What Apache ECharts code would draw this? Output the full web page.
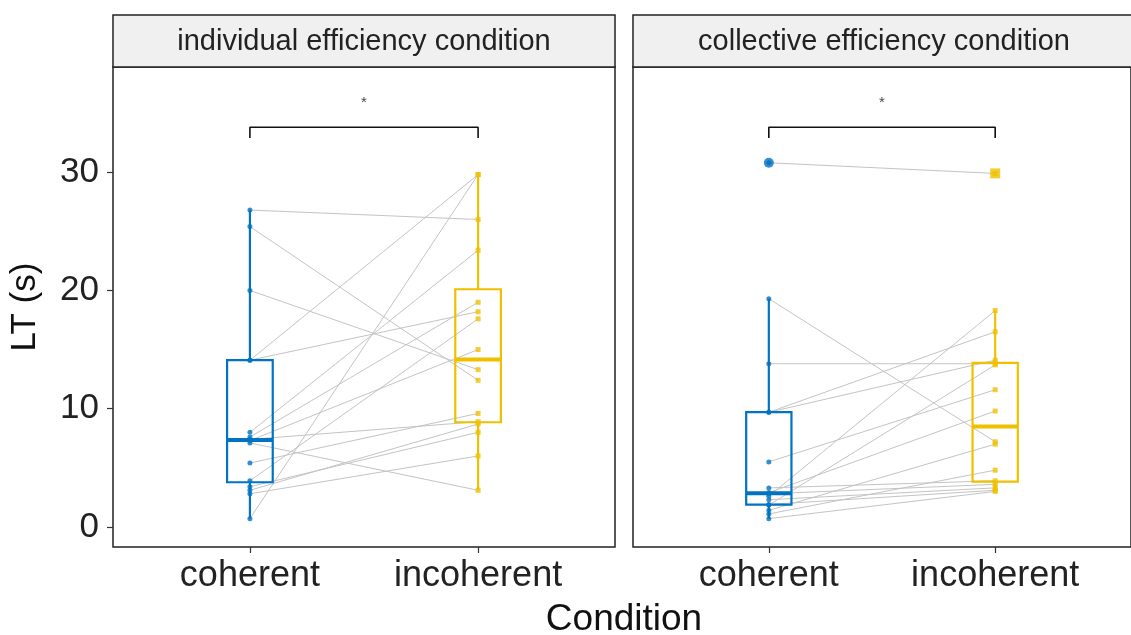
<!DOCTYPE html>
<html><head><meta charset="utf-8">
<script src="https://cdn.jsdelivr.net/npm/echarts@6/dist/echarts.min.js"></script>
<style>html,body{margin:0;padding:0;background:#fff;overflow:hidden}#c{width:1131px;height:635px}</style>
</head><body><div id="c"></div>
<script>
// ---- data ----
const conditions = ['coherent', 'incoherent'];
const panelTitles = ['individual efficiency condition', 'collective efficiency condition'];
const indivCoherent   = [26.8, 25.4, 20.0, 14.1, 14.1, 8.0, 7.6, 7.4, 7.3, 7.1, 5.4, 3.9, 3.4, 3.1, 2.8, 0.7];
const indivIncoherent = [26.0, 12.4, 13.3, 29.8, 18.2, 23.4, 19.0, 8.9, 15.0, 3.1, 9.6, 17.6, 8.0, 8.7, 6.0, 29.8];
const collCoherent    = [30.8, 19.3, 13.8, 9.7, 9.7, 5.5, 3.3, 2.9, 2.8, 2.6, 2.3, 1.9, 1.85, 1.4, 1.1, 0.7];
const collIncoherent  = [29.9, 7.2, 13.8, 16.5, 14.1, 11.6, 3.9, 9.8, 3.6, 18.3, 3.3, 3.1, 13.7, 7.0, 4.8, 3.0];
const yTicks = [0, 10, 20, 30];
const bracketY = 33.8, bracketDrop = 0.9, sigLabels = ['*', '*'];

const colors = ['#0073C2', '#EFC000'];
const symbols = ['circle', 'rect'];
const FONT = 'Liberation Sans';

function quantile(arr, p) {
  const s = arr.slice().sort((a, b) => a - b);
  const h = (s.length - 1) * p, lo = Math.floor(h), hi = Math.ceil(h);
  return s[lo] + (h - lo) * (s[hi] - s[lo]);
}
function boxStats(arr) {
  const q1 = quantile(arr, 0.25), md = quantile(arr, 0.5), q3 = quantile(arr, 0.75);
  const iqr = q3 - q1, lf = q1 - 1.5 * iqr, uf = q3 + 1.5 * iqr;
  const inside = arr.filter(v => v >= lf && v <= uf);
  return { lo: Math.min(...inside), q1, md, q3, hi: Math.max(...inside), out: arr.filter(v => v < lf || v > uf) };
}

const panels = [[indivCoherent, indivIncoherent], [collCoherent, collIncoherent]];
const grids = [
  { left: 113, top: 67, width: 502, height: 480 },
  { left: 633, top: 67, width: 502, height: 480 }
];

const series = [];
const xAxes = [], yAxes = [];
panels.forEach((pair, gi) => {
  xAxes.push({
    gridIndex: gi, type: 'value', min: 0.4, max: 2.6,
    axisLine: { show: false, onZero: false }, splitLine: { show: false },
    axisTick: { show: true, customValues: [1, 2], length: 6, lineStyle: { color: '#333', width: 1.2 } },
    axisLabel: { show: true, customValues: [1, 2], formatter: v => conditions[Math.round(v) - 1] || '',
      fontSize: 36, color: '#222', margin: 11, fontFamily: FONT }
  });
  yAxes.push({
    gridIndex: gi, type: 'value', min: -1.7, max: 38.9,
    axisLine: { show: false, onZero: false }, splitLine: { show: false },
    axisTick: { show: gi === 0, customValues: yTicks, length: 6, lineStyle: { color: '#333', width: 1.2 } },
    axisLabel: { show: gi === 0, customValues: yTicks, fontSize: 35, color: '#222', margin: 14, fontFamily: FONT },
    name: gi === 0 ? 'LT (s)' : '', nameLocation: 'middle', nameGap: 70, nameRotate: 90,
    nameTextStyle: { fontSize: 35, color: '#111', fontFamily: FONT }
  });
  // paired lines
  series.push({
    type: 'custom', xAxisIndex: gi, yAxisIndex: gi, silent: true, z: 1,
    data: pair[0].map((c, i) => [c, pair[1][i]]),
    renderItem: (params, api) => {
      const a = api.coord([1, api.value(0)]), b = api.coord([2, api.value(1)]);
      return { type: 'line', shape: { x1: a[0], y1: a[1], x2: b[0], y2: b[1] },
        style: { stroke: '#c4c4c4', lineWidth: 1 } };
    }
  });
  pair.forEach((vals, ci) => {
    const st = boxStats(vals);
    const x = ci + 1;
    series.push({
      type: 'custom', xAxisIndex: gi, yAxisIndex: gi, silent: true, z: 2,
      data: [[x, st.lo, st.q1, st.md, st.q3, st.hi]],
      renderItem: (params, api) => {
        const xv = api.value(0), hw = 0.1;
        const tl = api.coord([xv - hw, api.value(4)]), br = api.coord([xv + hw, api.value(2)]);
        const mL = api.coord([xv - hw, api.value(3)]), mR = api.coord([xv + hw, api.value(3)]);
        const top = api.coord([xv, api.value(5)]), q3c = api.coord([xv, api.value(4)]);
        const q1c = api.coord([xv, api.value(2)]), bot = api.coord([xv, api.value(1)]);
        const s = { stroke: colors[ci], lineWidth: 2.2, fill: 'none' };
        return { type: 'group', children: [
          { type: 'line', shape: { x1: top[0], y1: top[1], x2: q3c[0], y2: q3c[1] }, style: s },
          { type: 'line', shape: { x1: q1c[0], y1: q1c[1], x2: bot[0], y2: bot[1] }, style: s },
          { type: 'rect', shape: { x: tl[0], y: tl[1], width: br[0] - tl[0], height: br[1] - tl[1] }, style: s },
          { type: 'line', shape: { x1: mL[0], y1: mL[1], x2: mR[0], y2: mR[1] }, style: { stroke: colors[ci], lineWidth: 4 } }
        ] };
      }
    });
    // outliers (large)
    series.push({
      type: 'scatter', xAxisIndex: gi, yAxisIndex: gi, silent: true, z: 3,
      symbol: symbols[ci], symbolSize: 10, itemStyle: { color: colors[ci] },
      data: st.out.map(v => [x, v])
    });
    // individual points
    series.push({
      type: 'scatter', xAxisIndex: gi, yAxisIndex: gi, silent: true, z: 4,
      symbol: symbols[ci], symbolSize: 5, itemStyle: { color: colors[ci] },
      data: vals.map(v => [x, v])
    });
  });
  // significance bracket
  series.push({
    type: 'line', xAxisIndex: gi, yAxisIndex: gi, silent: true, z: 5, symbol: 'none',
    lineStyle: { color: '#111', width: 1.6 },
    data: [[1, bracketY - bracketDrop], [1, bracketY], [2, bracketY], [2, bracketY - bracketDrop]]
  });
  series.push({
    type: 'scatter', xAxisIndex: gi, yAxisIndex: gi, silent: true, z: 5, symbolSize: 1,
    itemStyle: { color: 'transparent' },
    label: { show: true, position: 'inside', formatter: sigLabels[gi], fontSize: 15, color: '#111' },
    data: [[1.5, bracketY + 2.1]]
  });
});

const graphics = [];
grids.forEach((g, i) => {
  graphics.push({ type: 'rect', shape: { x: g.left, y: 15, width: g.width, height: 52 },
    style: { fill: '#f0f0f0', stroke: '#222', lineWidth: 1.5 }, z: 0 });
  graphics.push({ type: 'text', style: { x: g.left + g.width / 2 - (i === 0 ? 0 : 0), y: 42, text: panelTitles[i],
    textAlign: 'center', textVerticalAlign: 'middle', fontSize: 29, fill: '#222', fontFamily: FONT } });
});
graphics.push({ type: 'text', style: { x: 624, y: 620, text: 'Condition', textAlign: 'center',
  textVerticalAlign: 'middle', fontSize: 37, fill: '#111', fontFamily: FONT } });

const chart = echarts.init(document.getElementById('c'), null, { renderer: 'canvas' });
chart.setOption({
  animation: false,
  backgroundColor: '#fff',
  grid: grids.map(g => Object.assign({ show: true, borderColor: '#222', borderWidth: 1.5, backgroundColor: 'transparent', containLabel: false }, g)),
  xAxis: xAxes, yAxis: yAxes, series, graphic: graphics
});
</script></body></html>
